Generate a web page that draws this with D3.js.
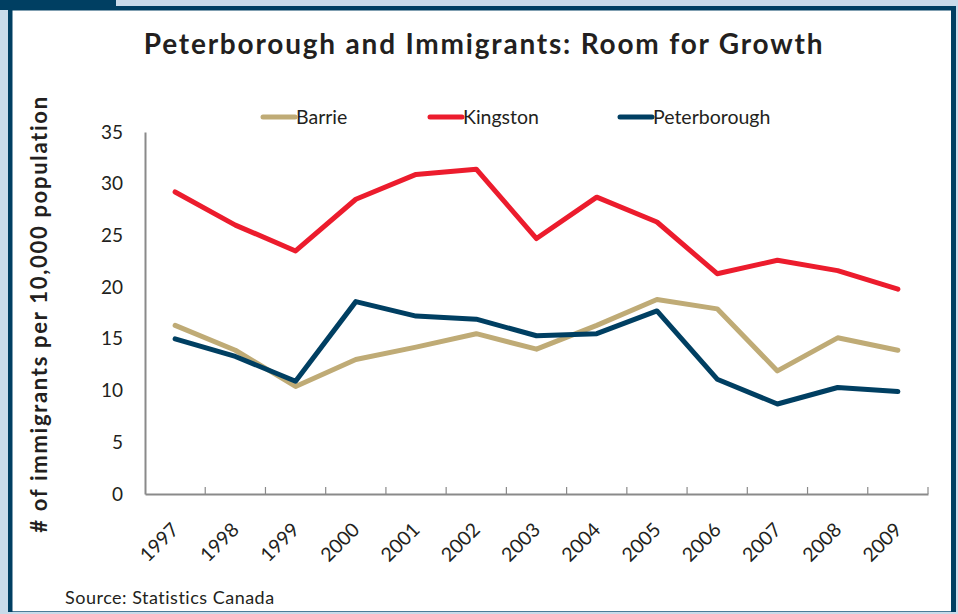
<!DOCTYPE html>
<html>
<head>
<meta charset="utf-8">
<script src="https://cdn.jsdelivr.net/npm/d3@7"></script>
<style>
  html, body { margin: 0; padding: 0; background: #c9dbea; }
  svg { display: block; }
  text { font-family: Lato, "Open Sans", sans-serif; fill: #231f20; }
</style>
</head>
<body>
<svg id="chart" width="958" height="614"></svg>
<script>
const years = ["1997","1998","1999","2000","2001","2002","2003","2004","2005","2006","2007","2008","2009"];
const barrie = [16.3, 13.9, 10.4, 13.0, 14.2, 15.5, 14.0, 16.3, 18.8, 17.9, 11.9, 15.1, 13.9];
const kingston = [29.2, 26.0, 23.5, 28.5, 30.9, 31.4, 24.7, 28.7, 26.3, 21.3, 22.6, 21.6, 19.8];
const peterborough = [15.0, 13.3, 10.9, 18.6, 17.2, 16.9, 15.3, 15.5, 17.7, 11.1, 8.7, 10.3, 9.9];
const seriesNames = ["Barrie", "Kingston", "Peterborough"];
const yTicks = [0, 5, 10, 15, 20, 25, 30, 35];

const colors = { Barrie: "#bfab76", Kingston: "#ec1c2d", Peterborough: "#003f62" };
const series = [
  { name: "Barrie", values: barrie },
  { name: "Kingston", values: kingston },
  { name: "Peterborough", values: peterborough }
];

const svg = d3.select("#chart");

// frame
svg.append("rect").attr("x", 0).attr("y", 0).attr("width", 116).attr("height", 10).attr("fill", "#003f62");
svg.append("rect").attr("x", 8).attr("y", 6).attr("width", 948).attr("height", 606).attr("fill", "#003f62");
svg.append("rect").attr("x", 12.5).attr("y", 10.5).attr("width", 938.5).attr("height", 600.5).attr("fill", "#ffffff");
svg.append("rect").attr("x", 12.5).attr("y", 611).attr("width", 938.5).attr("height", 1).attr("fill", "#4d7c98");

const plot = { left: 145, right: 928, top: 132, bottom: 494 };

const x = d3.scaleBand().domain(years).range([plot.left, plot.right]);
const y = d3.scaleLinear().domain([0, 35]).range([plot.bottom, plot.top]);

// title
svg.append("text")
  .attr("x", 484).attr("y", 54)
  .attr("text-anchor", "middle")
  .attr("font-size", 28).attr("font-weight", "bold")
  .attr("letter-spacing", 1.8)
  .text("Peterborough and Immigrants: Room for Growth");

// y axis label
svg.append("text")
  .attr("transform", "translate(47,314) rotate(-90)")
  .attr("text-anchor", "middle")
  .attr("font-size", 22).attr("font-weight", "bold")
  .attr("letter-spacing", 1.7)
  .text("# of immigrants per 10,000 population");

// y axis
const yAxis = svg.append("g")
  .attr("transform", `translate(${plot.left},0)`)
  .call(d3.axisLeft(y).tickValues(yTicks).tickSize(0).tickPadding(22).tickFormat(d3.format("d")));
yAxis.select(".domain").attr("stroke", "#8a8a8a").attr("stroke-width", 2);
yAxis.selectAll("text").attr("font-size", 19).attr("font-family", "Lato, sans-serif").attr("fill", "#231f20");

// x axis
const xAxis = svg.append("g")
  .attr("transform", `translate(0,${plot.bottom})`)
  .call(d3.axisBottom(x).tickSize(0).tickFormat(d => d));
xAxis.select(".domain").attr("stroke", "#8a8a8a").attr("stroke-width", 2);
xAxis.selectAll(".tick text")
  .attr("font-size", 19.5).attr("font-family", "Lato, sans-serif").attr("fill", "#231f20")
  .attr("text-anchor", "end")
  .attr("dy", 0).attr("y", 0)
  .attr("transform", "translate(5,37) rotate(-45)");

// boundary ticks (inside)
const boundaries = years.map(d => x(d)).concat([x(years[years.length - 1]) + x.bandwidth()]).slice(1);
svg.append("g").selectAll("line").data(boundaries).join("line")
  .attr("x1", d => d).attr("x2", d => d)
  .attr("y1", plot.bottom).attr("y2", plot.bottom - 7)
  .attr("stroke", "#8a8a8a").attr("stroke-width", 1.2);

// lines
const line = d3.line()
  .x((d, i) => x(years[i]) + x.bandwidth() / 2)
  .y(d => y(d));

svg.append("g").selectAll("path").data(series).join("path")
  .attr("d", d => line(d.values))
  .attr("fill", "none")
  .attr("stroke", d => colors[d.name])
  .attr("stroke-width", 5)
  .attr("stroke-linejoin", "round")
  .attr("stroke-linecap", "round");

// legend
const legendX = [263, 430, 620];
const lg = svg.append("g").selectAll("g").data(seriesNames).join("g")
  .attr("transform", (d, i) => `translate(${legendX[i]},117)`);
lg.append("line").attr("x1", 0).attr("x2", 32).attr("y1", 0).attr("y2", 0)
  .attr("stroke", d => colors[d]).attr("stroke-width", 5).attr("stroke-linecap", "round");
lg.append("text").attr("x", 33).attr("y", 7).attr("font-size", 19.5).text(d => d);

// source
svg.append("text").attr("x", 65).attr("y", 604).attr("font-size", 18).attr("letter-spacing", 0.5).text("Source: Statistics Canada");
</script>
</body>
</html>
